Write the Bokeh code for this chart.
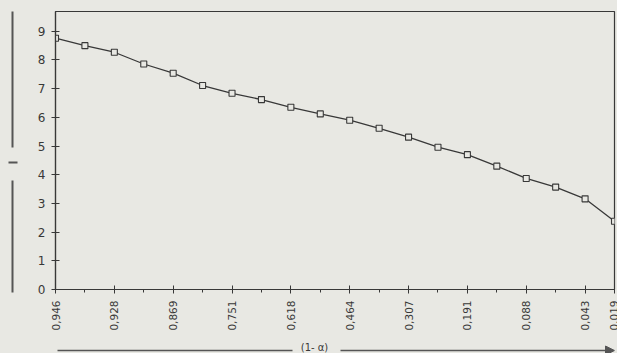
import math
from bokeh.plotting import figure
from bokeh.layouts import row, column
from bokeh.models import FixedTicker, Range1d, Arrow, NormalHead, Label
from bokeh.embed import file_html
from bokeh.resources import INLINE

# data
step_index = list(range(20))
values = [8.76, 8.50, 8.27, 7.86, 7.54, 7.11, 6.84, 6.62, 6.35, 6.12,
          5.90, 5.62, 5.31, 4.96, 4.70, 4.30, 3.87, 3.57, 3.16, 2.38]
tick_positions = [0, 2, 4, 6, 8, 10, 12, 14, 16, 18, 19]
tick_labels = ["0,946", "0,928", "0,869", "0,751", "0,618", "0,464",
               "0,307", "0,191", "0,088", "0,043", "0,019"]
minor_positions = [1, 3, 5, 7, 9, 11, 13, 15, 17]
y_ticks = list(range(10))
x_title = "(1- α)"

BG = "#e8e8e3"
INK = "#383838"
DECO = "#555555"
FONT = "DejaVu Sans"

W, H = 617, 353
SIDE_W = 25          # left strip for the ordinate arrow
STRIP_H = 14         # bottom strip for the abscissa arrow
MAIN_W, MAIN_H = W - SIDE_W, H - STRIP_H
FRAME_L, FRAME_R = 55, W - 3


def blank(width, height, xr, yr, **kw):
    f = figure(width=width, height=height, output_backend="svg",
               toolbar_location=None, x_range=Range1d(*xr), y_range=Range1d(*yr),
               x_axis_location=None, y_axis_location=None, **kw)
    f.background_fill_color = BG
    f.border_fill_color = BG
    f.outline_line_color = None
    f.grid.visible = False
    return f


# main chart
p = figure(width=MAIN_W, height=MAIN_H, output_backend="svg", toolbar_location=None,
           x_range=Range1d(0, 19), y_range=Range1d(0, 9.69),
           min_border_left=FRAME_L - SIDE_W, min_border_right=W - FRAME_R,
           min_border_top=11, min_border_bottom=MAIN_H - 289)
p.background_fill_color = BG
p.border_fill_color = BG
p.outline_line_color = INK
p.outline_line_width = 1.2
p.grid.visible = False

p.line(step_index, values, line_color=INK, line_width=1.3)
p.scatter(step_index, values, marker="square", size=6, fill_color=BG,
          line_color=INK, line_width=1.1)

xa = p.xaxis[0]
xa.ticker = FixedTicker(ticks=tick_positions, minor_ticks=minor_positions)
xa.major_label_overrides = {t: l for t, l in zip(tick_positions, tick_labels)}
xa.major_label_orientation = math.pi / 2
xa.major_label_text_font = FONT
xa.major_label_text_font_size = "10.5px"
xa.major_label_text_color = INK
xa.major_label_standoff = 7
xa.major_tick_in = 4
xa.major_tick_out = 4
xa.minor_tick_in = 0
xa.minor_tick_out = 3
xa.axis_line_color = INK
xa.axis_line_width = 1.2
xa.major_tick_line_color = INK
xa.minor_tick_line_color = INK

ya = p.yaxis[0]
ya.ticker = FixedTicker(ticks=y_ticks)
ya.major_label_text_font = FONT
ya.major_label_text_font_size = "12px"
ya.major_label_text_color = INK
ya.major_label_standoff = 6
ya.major_tick_in = 4
ya.major_tick_out = 4
ya.minor_tick_line_color = None
ya.axis_line_color = INK
ya.axis_line_width = 1.2
ya.major_tick_line_color = INK

# left strip: ordinate marker (pixel coordinates, y downwards)
side = blank(SIDE_W, H, (0, SIDE_W), (H, 0), min_border=0)
side.segment(x0=[12, 8, 12], y0=[11, 162, 180], x1=[12, 17, 12], y1=[147, 162, 292],
             line_color=DECO, line_width=2)

# bottom strip: abscissa arrow with title; its frame is aligned with the main
# frame by the layout, so its range spans the main frame's pixel columns
strip = blank(MAIN_W, STRIP_H, (FRAME_L, FRAME_R), (H, MAIN_H),
              min_border_left=FRAME_L - SIDE_W, min_border_right=W - FRAME_R,
              min_border_top=0, min_border_bottom=0)
strip.segment(x0=[57], y0=[350], x1=[292], y1=[350], line_color=DECO, line_width=1.5)
strip.add_layout(Arrow(x_start=340, y_start=350, x_end=FRAME_R, y_end=350,
                       line_color=DECO, line_width=1.5, start=None,
                       end=NormalHead(size=9, fill_color=DECO, line_color=DECO)))
strip.add_layout(Label(x=314, y=346.5, text=x_title, text_font=FONT,
                       text_font_size="10px", text_color=INK, text_align="center",
                       text_baseline="middle"))

layout = row(side, column(p, strip, spacing=0, styles={"background-color": BG}),
             spacing=0, styles={"background-color": BG})

open("out.html", "w").write(file_html(layout, INLINE))
